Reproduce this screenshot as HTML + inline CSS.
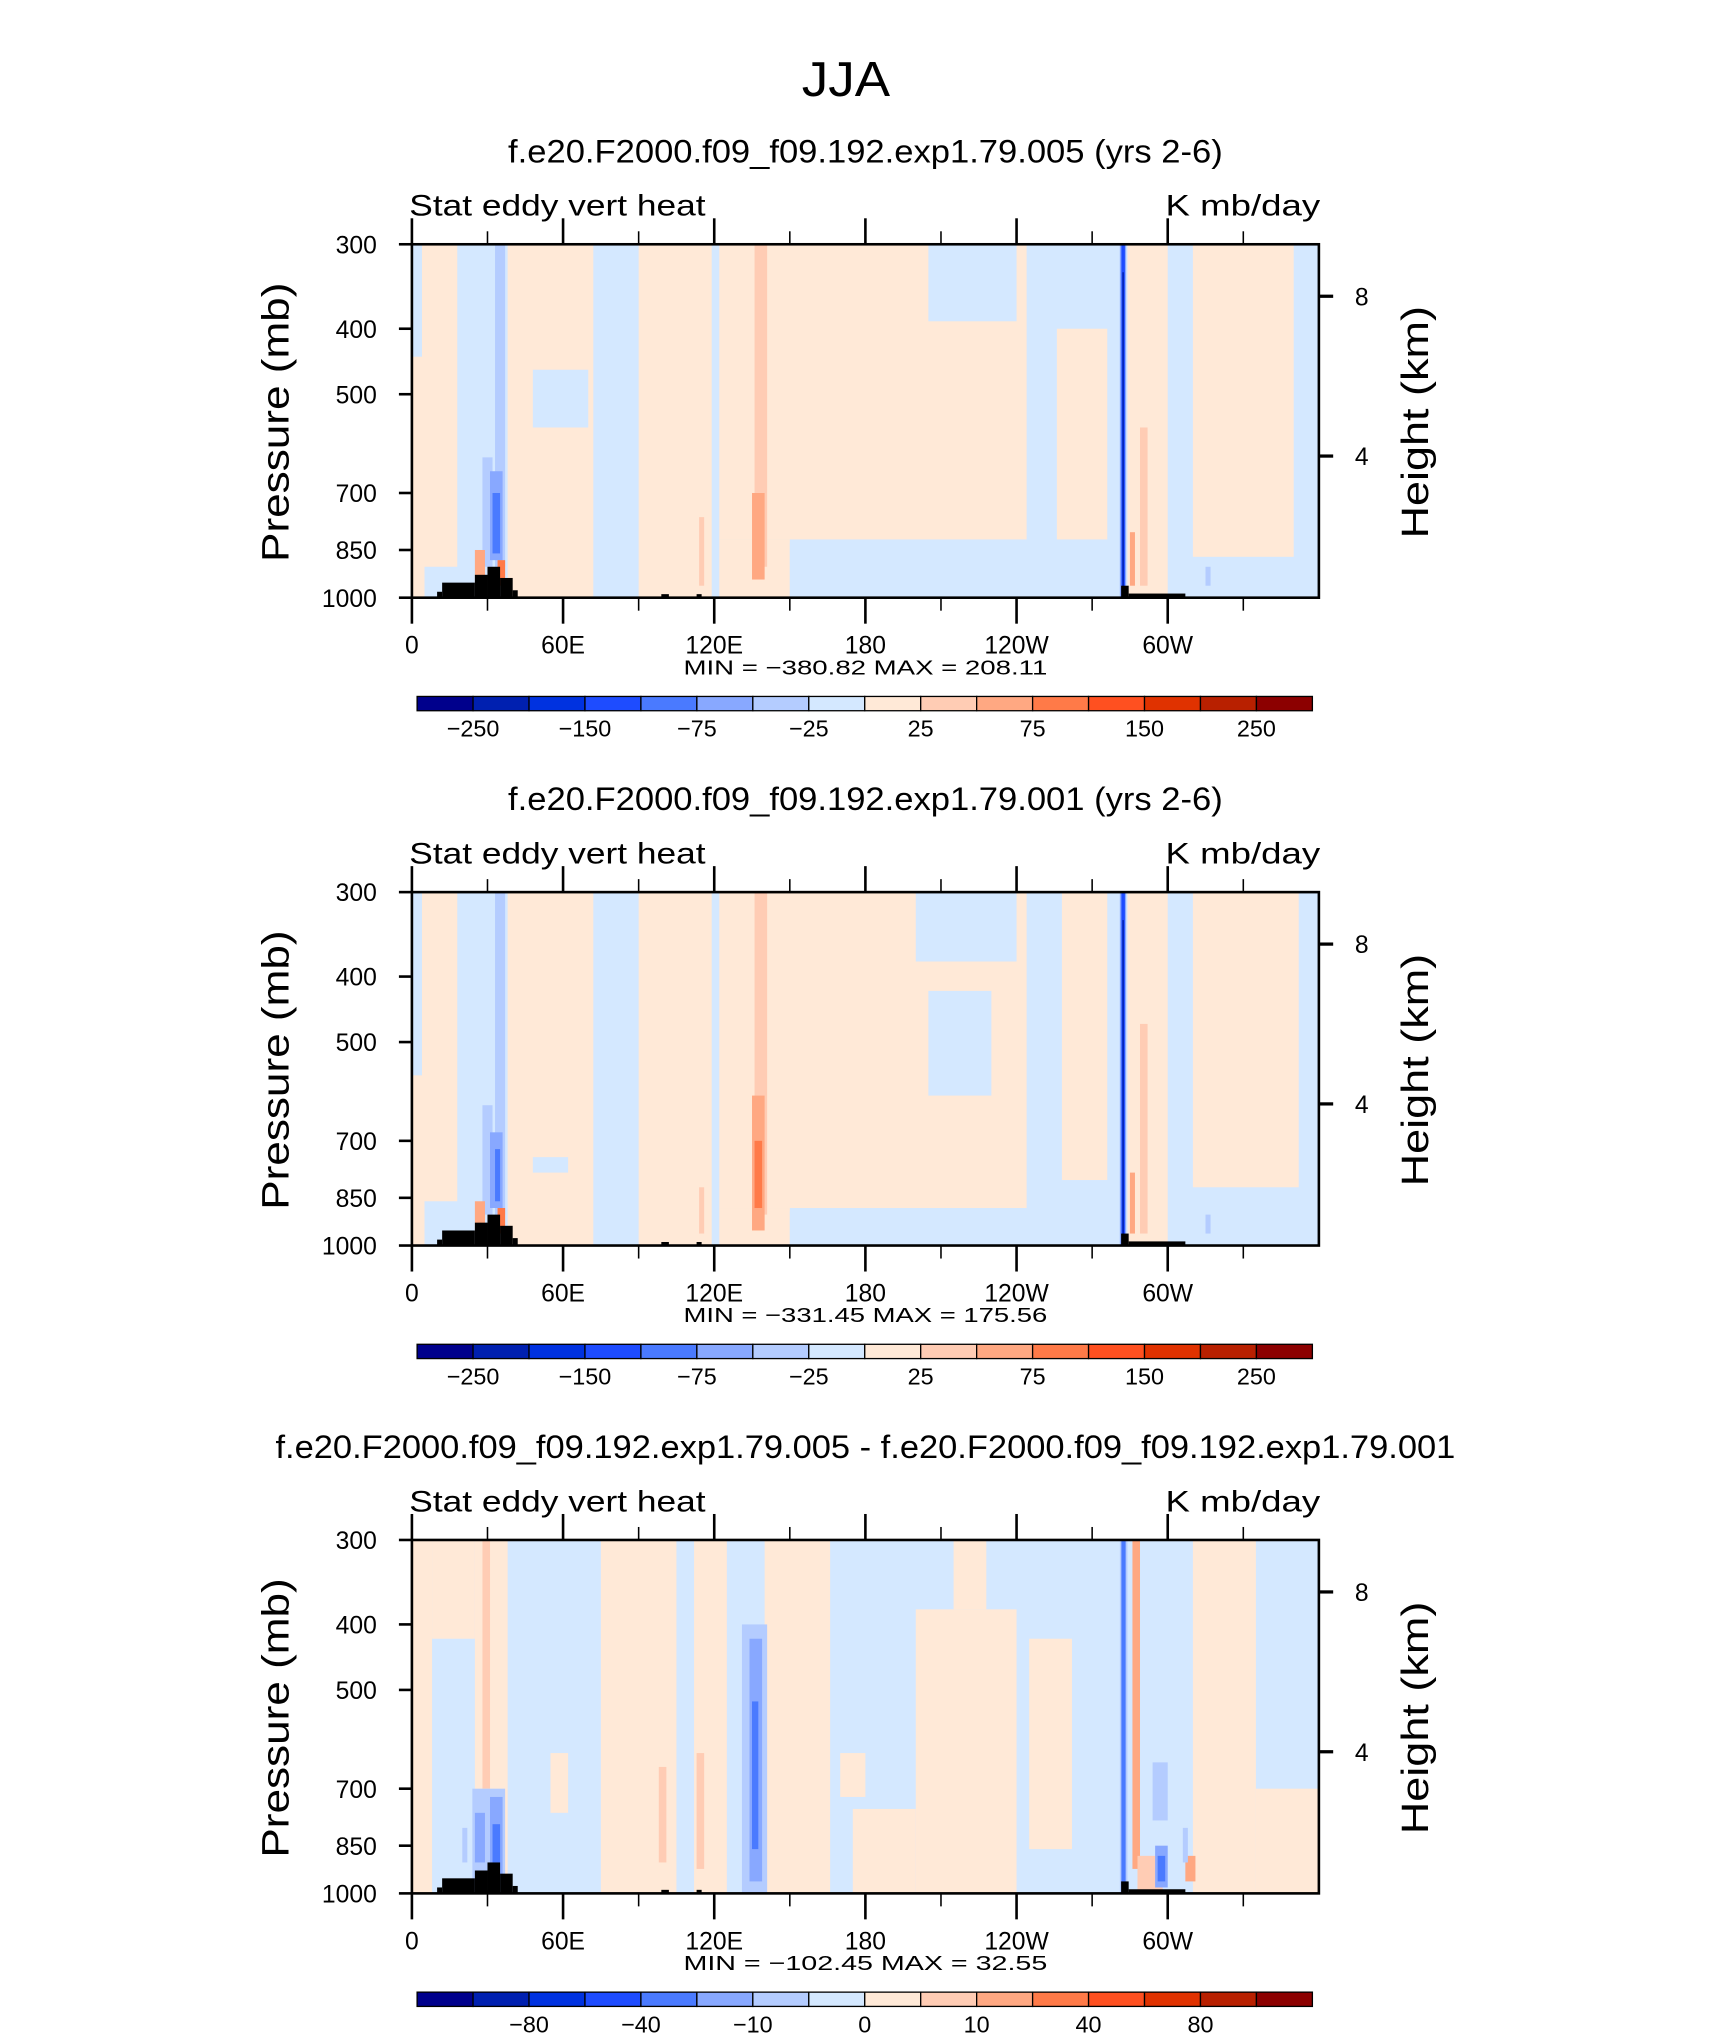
<!DOCTYPE html>
<html><head><meta charset="utf-8"><style>
html,body{margin:0;padding:0;background:#fff}
svg{display:block}
text{font-family:"Liberation Sans",sans-serif;fill:#000}
</style></head><body>
<svg id="fig" xmlns="http://www.w3.org/2000/svg" width="1710" height="2038" viewBox="0 0 1316 1568.5" preserveAspectRatio="none">
<rect x="0" y="0" width="1316" height="1568.5" fill="#fff"/>
<text x="651" y="74" font-size="38" text-anchor="middle" textLength="68" lengthAdjust="spacingAndGlyphs">JJA</text>
</svg>
<script>
const panelTitles = ["f.e20.F2000.f09_f09.192.exp1.79.005 (yrs 2-6)","f.e20.F2000.f09_f09.192.exp1.79.001 (yrs 2-6)","f.e20.F2000.f09_f09.192.exp1.79.005 - f.e20.F2000.f09_f09.192.exp1.79.001"];
const minMaxText = ["MIN = \u2212380.82   MAX = 208.11","MIN = \u2212331.45   MAX = 175.56","MIN = \u2212102.45   MAX =   32.55"];
const pressureTicks = [300,400,500,700,850,1000];
const heightTicks = [[8,228],[4,351]];
const lonTicks = [0,60,120,180,240,300];
const lonLabels = ["0","60E","120E","180","120W","60W"];
const cbLabelsA = ["\u2212250","\u2212150","\u221275","\u221225","25","75","150","250"];
const cbLabelIdxA = [1,3,5,7,9,11,13,15];
const cbLabelsB = ["\u221280","\u221240","\u221210","0","10","40","80"];
const cbLabelIdxB = [2,4,6,8,10,12,14];
const colors = ["#00008c","#0020b0","#0032e0","#1e4cff","#4a7aff","#88a8ff","#b4ccff","#d4e8ff","#ffe9d7","#ffccb4","#ffa882","#ff7a48","#ff5020","#e03200","#b82000","#8c0000"];
// bands: [lon0, lon1, pTop, pBottom, colorIndex]
const bands1 = [
[0,5,440,1000,8],[4,18,300,900,8],[38,72,300,1000,8],[48,70,460,560,7],[90,119,300,1000,8],
[122,244,300,820,8],[122,150,820,1000,8],[205,240,300,390,7],[150,240,830,1000,7],[256,276,400,820,8],
[284,300,300,1000,8],[310,350,300,870,8],
[136,141,300,900,9],[135,140,700,940,10],[114,116,760,960,9],[289,292,560,960,9],[285,287,800,960,10],
[28,32,620,900,6],[33,37,300,900,6],[31,36,650,880,5],[32,35,700,860,4],[25,29,850,960,10],[34,37,880,960,11],
[281,283.5,300,1000,5],[281.6,283,300,1000,3],[282,282.6,330,990,1],[315,317,900,960,6]
];
const bands2 = [
[0,5,560,1000,8],[4,18,300,860,8],[38,72,300,1000,8],[48,62,740,780,7],[90,119,300,1000,8],
[122,244,300,880,8],[122,150,880,1000,8],[200,240,300,380,7],[205,230,420,600,7],[150,240,890,1000,7],[258,276,300,800,8],
[284,300,300,1000,8],[310,352,300,820,8],
[136,141,300,900,9],[135,140,600,950,10],[136,139,700,880,11],[114,116,820,960,9],[289,292,470,960,9],[285,287,780,960,10],
[28,32,620,900,6],[33,37,300,900,6],[31,36,680,880,5],[33,35,720,860,4],[25,29,860,960,10],[34,37,880,960,11],
[281,283.5,300,1000,5],[281.6,283,300,1000,3],[282,282.6,330,990,1],[315,317,900,960,6]
];
const bands3 = [
[0,8,300,1000,8],[8,25,300,420,8],[25,38,300,1000,8],[75,105,300,1000,8],[112,125,300,1000,8],
[140,166,300,1000,8],[175,200,750,1000,8],[200,240,380,1000,8],[215,228,300,380,8],[245,262,420,860,8],
[310,335,300,1000,8],[335,360,700,1000,8],[55,62,620,760,8],[170,180,620,720,8],
[28,31,300,700,9],[113,116,620,920,9],[98,101,650,900,9],[286,289,300,920,10],[288,298,880,1000,9],[307,311,880,960,10],
[131,141,400,1000,6],[134,139,420,960,5],[135,137.5,520,860,4],
[24,37,700,1000,6],[25,29,760,900,5],[31,36,720,950,5],[32,35,790,900,4],[20,22,800,900,6],
[281,284,300,1000,6],[281.6,283.3,300,980,4],[294,300,640,780,6],[295,300,850,980,5],[296,299,880,960,4],[306,308,800,900,6]
];
const bandsAll = [bands1,bands2,bands3];
const topoLon = [[10,12,980],[12,25,950],[25,30,925],[30,35,900],[35,40,935],[40,42,975],[99,102,988],[113,115,988],[281.5,284.5,960],[284.5,307,986]];

const NS="http://www.w3.org/2000/svg";
const svg=document.getElementById('fig');
function mk(tag,attrs,parent){const e=document.createElementNS(NS,tag);for(const k in attrs)e.setAttribute(k,attrs[k]);(parent||svg).appendChild(e);return e;}
const X0=317,X1=1015,Y0=188,Y1=460;
function xs(l){return X0+(l/360)*(X1-X0);}
function ys(p){return Y0+(Y1-Y0)*Math.log(p/300)/Math.log(1000/300);}
const OFF=[0,498.6,997.2];
const titleW=[550,550,908];

for(let k=0;k<3;k++){
  const g=mk('g',{transform:'translate(0 '+OFF[k]+')'});
  
  
  const t=mk('text',{x:666,y:125,'font-size':25,'text-anchor':'middle',textLength:titleW[k],lengthAdjust:'spacingAndGlyphs'},g);t.textContent=panelTitles[k];
  
  
  const l1=mk('text',{x:315,y:166,'font-size':23,textLength:228,lengthAdjust:'spacingAndGlyphs'},g);l1.textContent="Stat eddy vert heat";
  
  
  const l2=mk('text',{x:897,y:166,'font-size':23,textLength:119,lengthAdjust:'spacingAndGlyphs'},g);l2.textContent="K mb/day";
  
  
  const bg=mk('rect',{x:X0,y:Y0,width:X1-X0,height:Y1-Y0,fill:colors[7]},g);
  
  
  bandsAll[k].forEach(b=>{
    const r=mk('rect',{x:xs(b[0]),y:ys(b[2]),width:Math.max(0.5,xs(b[1])-xs(b[0])),height:Math.max(0.5,ys(b[3])-ys(b[2])),fill:colors[b[4]]},g);
    
    
  });
  topoLon.forEach(b=>{
    const r=mk('rect',{x:xs(b[0]),y:ys(b[2]),width:xs(b[1])-xs(b[0]),height:Y1-ys(b[2]),fill:'#000'},g);
    
    
  });
  const fr=mk('rect',{x:X0,y:Y0,width:X1-X0,height:Y1-Y0,fill:'none',stroke:'#000','stroke-width':2},g);
  
  
  pressureTicks.forEach(p=>{
    mk('line',{x1:X0-10,x2:X0,y1:ys(p),y2:ys(p),stroke:'#000','stroke-width':2},g);
    const tl=mk('text',{x:X0-27,y:ys(p)+7,'font-size':19,'text-anchor':'end'},g);tl.textContent=p;
    
    
  });
  heightTicks.forEach(h=>{
    mk('line',{x1:X1,x2:X1+11,y1:h[1],y2:h[1],stroke:'#000','stroke-width':2.5},g);
    const tl=mk('text',{x:X1+33,y:h[1]+7,'font-size':19,'text-anchor':'middle'},g);tl.textContent=h[0];
    
    
  });
  for(let l=0;l<=330;l+=30){
    const maj=l%60===0, len=maj?20:10;
    mk('line',{x1:xs(l),x2:xs(l),y1:Y1,y2:Y1+len,stroke:'#000','stroke-width':maj?2:1.2},g);
    mk('line',{x1:xs(l),x2:xs(l),y1:Y0,y2:Y0-len,stroke:'#000','stroke-width':maj?2:1.2},g);
  }
  lonTicks.forEach((l,i)=>{
    const tl=mk('text',{x:xs(l),y:503,'font-size':19,'text-anchor':'middle'},g);tl.textContent=lonLabels[i];
    
    
  });
  const ya=mk('text',{x:0,y:0,'font-size':29,'text-anchor':'middle',textLength:215,lengthAdjust:'spacingAndGlyphs',transform:'translate(222 325) rotate(-90)'},g);ya.textContent="Pressure (mb)";
  
  
  const yb=mk('text',{x:0,y:0,'font-size':29,'text-anchor':'middle',textLength:179,lengthAdjust:'spacingAndGlyphs',transform:'translate(1099 325) rotate(-90)'},g);yb.textContent="Height (km)";
  
  
  const mm=mk('text',{x:666,y:519,'font-size':16,'text-anchor':'middle',textLength:280,lengthAdjust:'spacingAndGlyphs'},g);mm.textContent=minMaxText[k];
  
  
  const cw=(1010-321)/16;
  for(let i=0;i<16;i++){
    const r=mk('rect',{x:321+i*cw,y:536,width:cw,height:11,fill:colors[i],stroke:'#000','stroke-width':1},g);
    
    
  }
  const labs=k<2?cbLabelsA:cbLabelsB, idx=k<2?cbLabelIdxA:cbLabelIdxB;
  labs.forEach((s,i)=>{
    const tl=mk('text',{x:321+idx[i]*cw,y:567,'font-size':18,'text-anchor':'middle'},g);tl.textContent=s;
    
    
  });
}
</script>
</body></html>
